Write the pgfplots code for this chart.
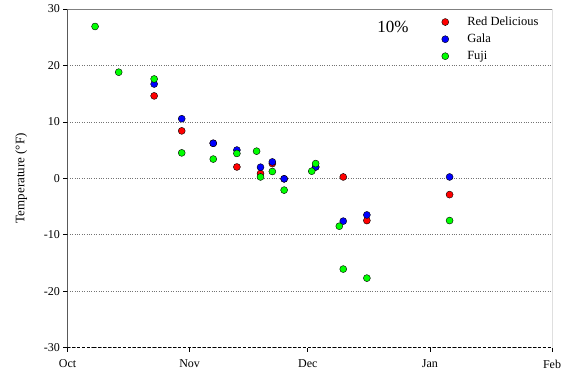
\documentclass[border=0pt]{standalone}
\usepackage{pgfplots}
\pgfplotsset{compat=1.18}
\usepackage{fontspec}
\setmainfont{Liberation Serif}
\definecolor{rd}{RGB}{255,0,0}
\definecolor{gl}{RGB}{0,0,255}
\definecolor{fj}{RGB}{0,255,0}
\begin{document}
\begin{tikzpicture}[x=1pt,y=1pt]
\useasboundingbox (-67.5,-30.5) rectangle (496.5,347.5);
\begin{axis}[at={(0,0)}, anchor=south west, scale only axis,
  width=484.5pt, height=338.5pt,
  xmin=0, xmax=123, ymin=-30, ymax=30,
  xtick={0,31,61,92,123}, xticklabels={Oct,Nov,Dec,Jan,Feb},
  ytick={-30,-20,...,30},
  axis line style={draw=none},
  tick align=outside, tick pos=left, major tick length=4pt,
  tick style={black, line width=0.6pt},
  ymajorgrids, grid style={dotted, black!55, line width=0.6pt},
  ticklabel style={font=\fontsize{12}{14}\selectfont},
  xticklabel style={yshift=-5pt},
  /pgf/number format/assume math mode=true,
  ylabel={Temperature (°F)},
  ylabel style={font=\fontsize{13}{15}\selectfont, yshift=10pt},
  legend style={draw=none, fill=none, at={(rel axis cs:0.771,0.983)}, anchor=north west,
    font=\fontsize{12.5}{14}\selectfont, row sep=3pt, inner sep=0pt},
  legend cell align=left,
  legend image code/.code={\path[draw=none,fill=none] (-4pt,0pt) -- (20pt,0pt); \draw[#1] plot coordinates {(0pt,0pt)};},
  every axis plot/.append style={only marks, mark=*, mark size=3.5pt, mark options={draw=black, line width=0.5pt}},
]
\draw[black, line width=0.6pt] (rel axis cs:0,0) -- (rel axis cs:0,1);
\draw[black, line width=0.6pt] (rel axis cs:1,0) -- (rel axis cs:1,1);
\draw[gray, line width=0.8pt] (rel axis cs:0,1) -- (rel axis cs:1,1);
\draw[black, line width=0.6pt, dash pattern=on 3pt off 2pt] (rel axis cs:0,0) -- (rel axis cs:1,0);
\addplot[mark options={fill=rd}] coordinates {
(22,14.6) (29,8.4) (37,6.2) (43,2.0) (49,0.84) (52,2.6) (55,-0.1) (63,2.0) (70,0.23) (76,-7.5) (97,-2.9)};
\addlegendentry{Red Delicious}
\addplot[mark options={fill=gl}] coordinates {
(22,16.7) (29,10.55) (37,6.2) (43,5.0) (49,1.96) (52,2.9) (55,-0.1) (63,2.0) (70,-7.6) (76,-6.5) (97,0.23)};
\addlegendentry{Gala}
\addplot[mark options={fill=fj}] coordinates {
(7,26.9) (13,18.8) (22,17.6) (29,4.5) (37,3.4) (43,4.4) (48,4.8) (49,0.23) (52,1.2) (55,-2.1) (62,1.25) (63,2.6) (69,-8.5) (70,-16.1) (76,-17.7) (97,-7.5)};
\addlegendentry{Fuji}
\node[font=\fontsize{17}{19}\selectfont] at (axis cs:82.6,26.9) {10\%};
\end{axis}
\end{tikzpicture}
\end{document}
